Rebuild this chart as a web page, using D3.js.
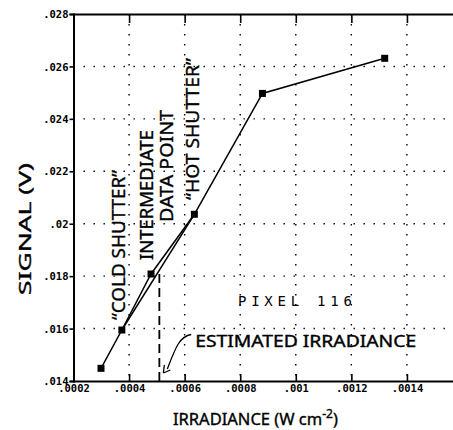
<!DOCTYPE html>
<html><head><meta charset="utf-8">
<script src="https://cdn.jsdelivr.net/npm/d3@7"></script>
<style>
html,body{margin:0;padding:0;background:#fff;}
svg{display:block;}
.tl{font-family:"DejaVu Sans Mono",monospace;font-size:10.5px;font-weight:bold;fill:#000;}
.lab{font-family:"Noto Sans","DejaVu Sans",sans-serif;fill:#000;stroke:#000;stroke-width:0.35px;}
</style></head>
<body>
<svg id="c" width="453" height="430"></svg>
<script>
// ---- data ----
const irradiance = [0.000299, 0.000374, 0.000479, 0.000635, 0.00088, 0.00132];
const signal     = [0.014484, 0.015945, 0.018082, 0.02036, 0.02497, 0.02631];
const twoPointIdx = [1, 3];           // cold shutter -> hot shutter straight line
const estimatedIrradiance = 0.000509;
const estimatedSignal = 0.018082;
const xTickValues = [0.0002, 0.0004, 0.0006, 0.0008, 0.001, 0.0012, 0.0014];
const xTickLabels = [".0002", ".0004", ".0006", ".0008", ".001", ".0012", ".0014"];
const yTickValues = [0.014, 0.016, 0.018, 0.02, 0.022, 0.024, 0.026, 0.028];
const yTickLabels = [".014", ".016", ".018", ".02", ".022", ".024", ".026", ".028"];

const svg = d3.select("#c");
const x = d3.scaleLinear().domain([0.0002, 0.0016]).range([73.5, 462.5]);
const y = d3.scaleLinear().domain([0.014, 0.028]).range([381, 14]);

// grid (dotted)
const grid = svg.append("g").attr("stroke", "#000").attr("stroke-width", 1.4)
  .attr("stroke-dasharray", "1.4,8.6").attr("fill", "none");
xTickValues.slice(1).forEach(v => grid.append("line")
  .attr("x1", x(v)).attr("x2", x(v)).attr("y1", y(0.028)).attr("y2", y(0.014)));
yTickValues.slice(1, -1).forEach(v => grid.append("line")
  .attr("x1", x(0.0002)).attr("x2", 453).attr("y1", y(v)).attr("y2", y(v)));

// axes
const yAx = svg.append("g").attr("transform", `translate(${x(0.0002)},0)`)
  .call(d3.axisLeft(y).tickValues(yTickValues).tickFormat((d, i) => yTickLabels[i]).tickSize(4).tickPadding(1));
const xAx = svg.append("g").attr("transform", `translate(0,${y(0.014)})`)
  .call(d3.axisBottom(x).tickValues(xTickValues).tickFormat((d, i) => xTickLabels[i]).tickSize(-7).tickPadding(4));
const topAx = svg.append("g").attr("transform", `translate(0,${y(0.028)})`)
  .call(d3.axisTop(x).tickValues(xTickValues.slice(1)).tickFormat("").tickSize(-9));
[yAx, xAx, topAx].forEach(g => {
  g.select(".domain").attr("stroke", "#000").attr("stroke-width", 2);
  g.selectAll(".tick line").attr("stroke", "#000").attr("stroke-width", 1.6);
  g.selectAll("text").attr("class", "tl").attr("font-family", null).attr("font-size", null);
});
yAx.selectAll("text").attr("dy", "0.35em");
xAx.selectAll("text").attr("dy", "0.7em");

// estimated irradiance dashed line
svg.append("line").attr("x1", x(estimatedIrradiance)).attr("x2", x(estimatedIrradiance))
  .attr("y1", y(estimatedSignal)).attr("y2", y(0.014))
  .attr("stroke", "#000").attr("stroke-width", 1.8).attr("stroke-dasharray", "9,5");

// lines
const line = d3.line().x(d => x(d[0])).y(d => y(d[1]));
const pts = irradiance.map((v, i) => [v, signal[i]]);
svg.append("path").attr("d", line(pts)).attr("fill", "none").attr("stroke", "#000").attr("stroke-width", 1.5);
svg.append("path").attr("d", line(twoPointIdx.map(i => pts[i]))).attr("fill", "none").attr("stroke", "#000").attr("stroke-width", 1.5);

// markers
svg.selectAll("rect.pt").data(pts).enter().append("rect")
  .attr("x", d => x(d[0]) - 3.5).attr("y", d => y(d[1]) - 3.5)
  .attr("width", 7).attr("height", 7).attr("fill", "#000");

// rotated annotations
function vtext(txt, cx, cy, size, len) {
  svg.append("text").attr("class", "lab")
    .attr("transform", `translate(${cx},${cy}) rotate(-90)`)
    .attr("text-anchor", "middle").attr("dy", "0.36em")
    .attr("font-size", size).attr("textLength", len).attr("lengthAdjust", "spacingAndGlyphs")
    .text(txt);
}
vtext("\u201CCOLD SHUTTER\u201D", x(0.000361), y(0.01919), 18, 150);
vtext("INTERMEDIATE", x(0.000463), y(0.021095), 18, 130);
vtext("DATA POINT", x(0.000533), y(0.022201), 18, 112);
vtext("\u201CHOT SHUTTER\u201D", x(0.000629), y(0.023613), 18, 142);

// axis titles
svg.append("text").attr("class", "lab")
  .attr("transform", `translate(25,229) rotate(-90)`).attr("text-anchor", "middle").attr("dy", "0.36em")
  .attr("font-size", 17).attr("textLength", 132).attr("lengthAdjust", "spacingAndGlyphs")
  .text("SIGNAL (V)");
const xt = svg.append("text").attr("class", "lab").attr("x", 173).attr("y", 425)
  .attr("font-size", 16.5);
xt.append("tspan").text("IRRADIANCE (W cm");
xt.append("tspan").attr("dy", -7).attr("font-size", 12).text("-2");
xt.append("tspan").attr("dy", 7).text(")");

// PIXEL 116
svg.append("text").attr("x", x(0.000997)).attr("y", y(0.01686)).attr("text-anchor", "middle")
  .attr("font-family", "DejaVu Sans Mono, monospace").attr("font-size", 14)
  .attr("textLength", 114).attr("lengthAdjust", "spacing").text("PIXEL 116");

// ESTIMATED IRRADIANCE + arrow
svg.append("text").attr("class", "lab").attr("x", x(0.000638)).attr("y", y(0.015316))
  .attr("font-size", 15.5).attr("textLength", 221).attr("lengthAdjust", "spacingAndGlyphs")
  .text("ESTIMATED IRRADIANCE");
const ax0 = x(0.000638) - 4, ay0 = y(0.015316) - 12;
const ax1 = x(estimatedIrradiance) + 4, ay1 = y(0.014) - 8;
svg.append("path")
  .attr("d", `M${ax0},${ay0} C${ax0 - 12},${ay0 + 2} ${ax0 - 16},${ay0 + 14} ${ax1 + 4},${ay1 - 4}`)
  .attr("fill", "none").attr("stroke", "#000").attr("stroke-width", 1.3);
svg.append("path")
  .attr("d", `M${ax1},${ay1} L${ax1 + 1},${ay1 - 8} M${ax1},${ay1} L${ax1 + 7},${ay1 - 3}`)
  .attr("fill", "none").attr("stroke", "#000").attr("stroke-width", 1.3);
</script>
</body></html>
